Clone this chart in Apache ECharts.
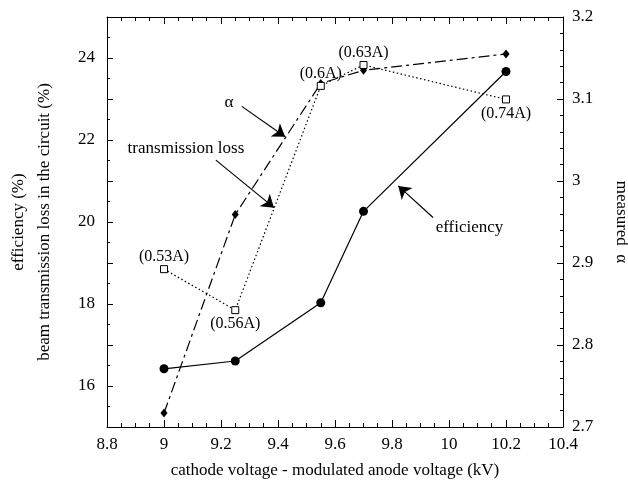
<!DOCTYPE html>
<html>
<head>
<meta charset="utf-8">
<script src="https://cdn.jsdelivr.net/npm/echarts@6/dist/echarts.min.js"></script>
<style>html,body{margin:0;padding:0;background:#fff;}#c{width:628px;height:489px;}</style>
</head>
<body>
<div id="c"></div>
<script>
// ---- data ----
const voltage = [9, 9.25, 9.55, 9.7, 10.2];
const efficiency = [16.42, 16.61, 18.03, 20.26, 23.67];
const transmissionLoss = [18.85, 17.85, 23.32, 23.83, 22.99];
const alpha = [2.717, 2.959, 3.119, 3.135, 3.155];
const beamCurrentLabels = ['(0.53A)', '(0.56A)', '(0.6A)', '(0.63A)', '(0.74A)'];
const beamLabelSide = ['top', 'bottom', 'top', 'top', 'bottom'];
const annotationText = ['α', 'transmission loss', 'efficiency'];
const annotationX = [9.228, 9.077, 10.072];
const annotationY = [22.92, 21.80, 19.86];
const arrowFromX = [9.273, 9.182, 9.944];
const arrowFromY = [22.82, 21.51, 20.11];
const arrowToX = [9.425, 9.386, 9.822];
const arrowToY = [22.08, 20.35, 20.88];

const FONT = 'Liberation Serif';
const black = '#000';

const chart = echarts.init(document.getElementById('c'), null, {renderer: 'canvas'});

function xAxisDef(pos, showLabel) {
  return {
    type: 'value', position: pos, min: 8.8, max: 10.4, interval: 0.2,
    axisLine: {show: true, onZero: false, lineStyle: {color: black, width: 1}},
    axisTick: {show: true, inside: true, length: 7, lineStyle: {color: black}},
    minorTick: {show: true, splitNumber: 4, length: 4, lineStyle: {color: black}},
    splitLine: {show: false},
    axisLabel: {show: showLabel, color: black, fontFamily: FONT, fontSize: 17, margin: 9},
    name: showLabel ? 'cathode voltage - modulated anode voltage (kV)' : '',
    nameLocation: 'middle', nameGap: 35,
    nameTextStyle: {color: black, fontFamily: FONT, fontSize: 17}
  };
}

const option = {
  animation: false,
  backgroundColor: '#fff',
  grid: {left: 107, right: 65, top: 17, bottom: 62, containLabel: false, outerBoundsMode: 'none'},
  xAxis: [xAxisDef('bottom', true), xAxisDef('top', false)],
  yAxis: [
    {
      type: 'value', position: 'left', min: 15, max: 25, interval: 1,
      axisLine: {show: true, onZero: false, lineStyle: {color: black}},
      axisTick: {show: true, inside: true, length: 6, lineStyle: {color: black}},
      minorTick: {show: true, splitNumber: 2, length: 3, lineStyle: {color: black}},
      splitLine: {show: false},
      axisLabel: {color: black, fontFamily: FONT, fontSize: 17, margin: 12,
        formatter: v => (Math.round(v) % 2 === 0 && v > 15 && v < 25) ? String(Math.round(v)) : ''},
      name: 'efficiency (%)\nbeam transmission loss in the circuit (%)',
      nameLocation: 'middle', nameGap: 49, nameRotate: 90,
      nameTextStyle: {color: black, fontFamily: FONT, fontSize: 17, lineHeight: 26}
    },
    {
      type: 'value', position: 'right', min: 2.7, max: 3.2, interval: 0.1,
      axisLine: {show: true, onZero: false, lineStyle: {color: black}},
      axisTick: {show: true, inside: true, length: 6, lineStyle: {color: black}},
      minorTick: {show: true, splitNumber: 5, length: 3, lineStyle: {color: black}},
      splitLine: {show: false},
      axisLabel: {color: black, fontFamily: FONT, fontSize: 17, margin: 9},
      name: 'measured  α',
      nameLocation: 'middle', nameGap: 50, nameRotate: -90,
      nameTextStyle: {color: black, fontFamily: FONT, fontSize: 17}
    }
  ],
  series: [
    {
      name: 'efficiency', type: 'line', xAxisIndex: 0, yAxisIndex: 0,
      data: voltage.map((x, i) => [x, efficiency[i]]),
      symbol: 'circle', symbolSize: 9,
      itemStyle: {color: black},
      lineStyle: {color: black, width: 1.2, type: 'solid'},
      z: 3,
      markLine: {
        silent: true, animation: false,
        symbol: ['none', 'arrow'], symbolSize: 12,
        label: {show: false},
        lineStyle: {color: black, width: 1.2, type: 'solid'},
        emphasis: {disabled: true},
        data: arrowFromX.map((x, i) => [
          {coord: [x, arrowFromY[i]], symbol: 'none'},
          {coord: [arrowToX[i], arrowToY[i]], symbol: 'arrow', symbolSize: 12}
        ])
      }
    },
    {
      name: 'transmission loss', type: 'line', xAxisIndex: 0, yAxisIndex: 0,
      data: voltage.map((x, i) => ({
        value: [x, transmissionLoss[i]],
        label: {position: beamLabelSide[i], distance: beamLabelSide[i] === 'top' ? 0 : 2}
      })),
      symbol: 'rect', symbolSize: 7,
      itemStyle: {color: '#fff', borderColor: black, borderWidth: 1},
      lineStyle: {color: black, width: 1.2, type: [1.5, 2.5]},
      label: {show: true, color: black, fontFamily: FONT, fontSize: 16,
        formatter: p => beamCurrentLabels[p.dataIndex]},
      z: 4
    },
    {
      name: 'alpha', type: 'line', xAxisIndex: 0, yAxisIndex: 1,
      data: voltage.map((x, i) => [x, alpha[i]]),
      symbol: 'diamond', symbolSize: [7, 9],
      itemStyle: {color: black},
      lineStyle: {color: black, width: 1.2, type: [11, 4, 3, 4]},
      z: 3
    },
    {
      name: 'annotations', type: 'scatter', xAxisIndex: 0, yAxisIndex: 0,
      data: annotationText.map((t, i) => [annotationX[i], annotationY[i], t]),
      symbolSize: 1,
      itemStyle: {color: 'rgba(0,0,0,0)', opacity: 1},
      label: {show: true, position: 'inside', color: black, opacity: 1, fontFamily: FONT, fontSize: 17,
        formatter: p => p.value[2]},
      silent: true
    }
  ]
};
chart.setOption(option);
</script>
</body>
</html>
